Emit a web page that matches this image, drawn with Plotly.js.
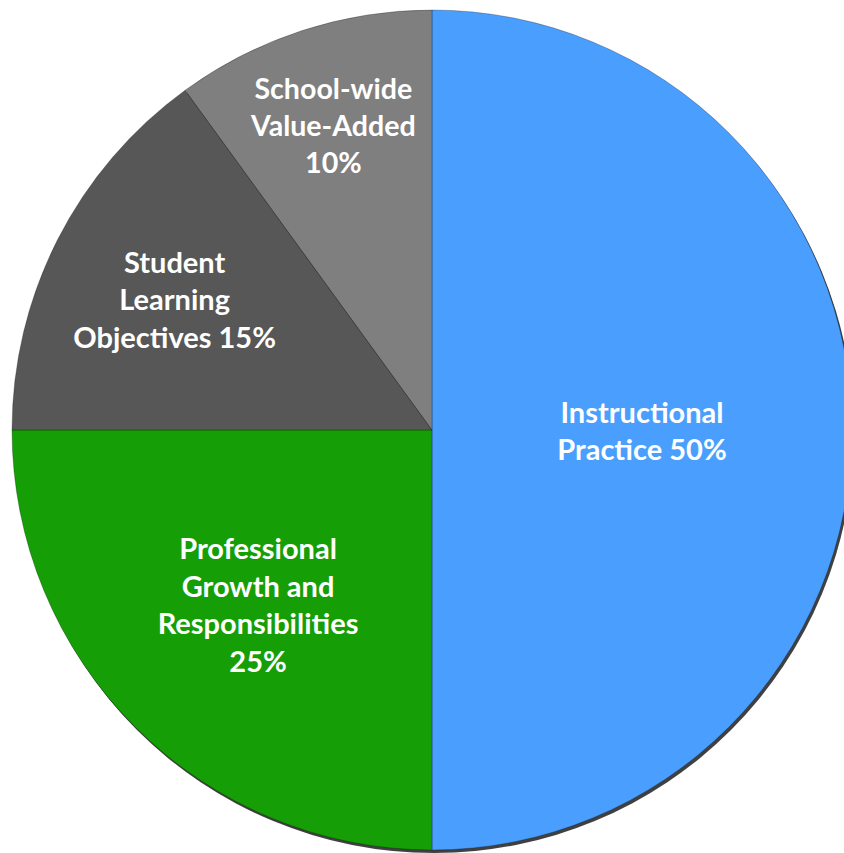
<!DOCTYPE html>
<html>
<head>
<meta charset="utf-8">
<script src="https://cdn.plot.ly/plotly-3.0.1.min.js"></script>
<style>
html,body{margin:0;padding:0;overflow:hidden;background:#fff;}
#chart{width:864px;height:853px;}
</style>
</head>
<body>
<div id="chart"></div>
<script>
const categories = ["Instructional Practice", "Professional Growth and Responsibilities", "Student Learning Objectives", "School-wide Value-Added"];
const values = [50, 25, 15, 10];
const labelTexts = ["Instructional<br>Practice 50%", "Professional<br>Growth and<br>Responsibilities<br>25%", "Student<br>Learning<br>Objectives 15%", "School-wide<br>Value-Added<br>10%"];
const colors = ["#4A9FFE", "#169E06", "#575757", "#7F7F7F"];

const W = 864, H = 853;
const cx = 432, cy = 430, R = 420;
const dom = {x: [(cx - R) / W, (cx + R) / W], y: [1 - (cy + R) / H, 1 - (cy - R) / H]};
const shadowDom = {x: [(cx - R + 2) / W, (cx + R + 2) / W], y: [1 - (cy + R + 3) / H, 1 - (cy - R + 3) / H]};

const shadow = {
  type: "pie", values: [1], labels: ["shadow"], sort: false,
  marker: {colors: ["rgba(0,0,0,0.75)"], line: {width: 0}},
  textinfo: "none", hoverinfo: "skip", showlegend: false, domain: shadowDom
};

const pie = {
  type: "pie",
  labels: categories,
  values: values,
  text: labelTexts,
  sort: false,
  direction: "clockwise",
  rotation: 0,
  textinfo: "text",
  textposition: "inside",
  insidetextorientation: "horizontal",
  insidetextfont: {family: "Lato, 'Open Sans', sans-serif", size: 29, color: "#ffffff", weight: "bold"},
  marker: {colors: colors, line: {color: "rgba(0,0,0,0.25)", width: 1}},
  hoverinfo: "label+percent",
  showlegend: false,
  domain: dom
};

Plotly.newPlot("chart", [shadow, pie], {
  width: W, height: H,
  margin: {l: 0, r: 0, t: 0, b: 0},
  paper_bgcolor: "#ffffff",
  showlegend: false
}, {displayModeBar: false, staticPlot: true});
</script>
</body>
</html>
